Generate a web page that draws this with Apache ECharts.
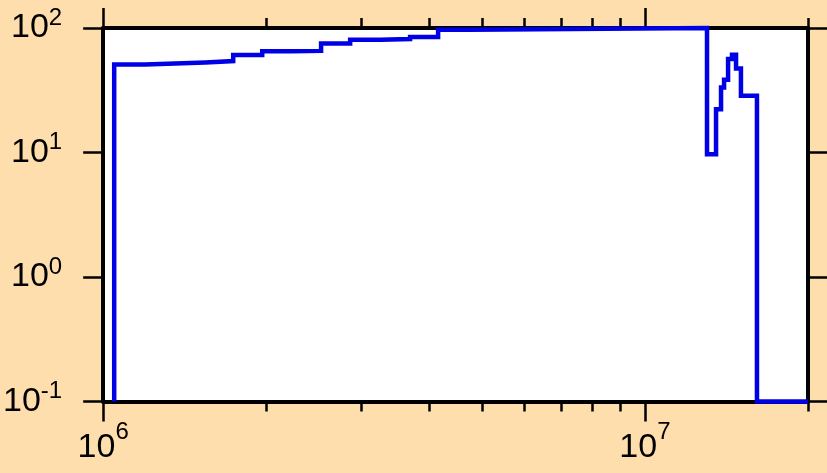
<!DOCTYPE html>
<html>
<head>
<meta charset="utf-8">
<script src="https://cdn.jsdelivr.net/npm/echarts@6/dist/echarts.min.js"></script>
<style>
html,body{margin:0;padding:0;background:#FFDEAD;}
#chart{width:827px;height:473px;}
</style>
</head>
<body>
<div id="chart"></div>
<script>
// Histogram bin edges (x) and bin values (y)
const binEdges = [1.048e6, 1.195e6, 1.358e6, 1.543e6, 1.738e6, 1.966e6, 2.223e6, 2.525e6, 2.857e6, 3.245e6, 3.686e6, 4.152e6, 4.755e6, 1.302e7, 1.353e7, 1.382e7, 1.400e7, 1.424e7, 1.448e7, 1.473e7, 1.504e7, 1.610e7, 2.0e7];
const binValues = [51.0, 51.9, 52.9, 54.3, 60.7, 65.0, 65.5, 75.2, 80.5, 81.6, 84.7, 96.9, 100, 9.7, 22.3, 33.3, 38.4, 56.3, 61.0, 47.3, 28.6, 0.1];
const baseValue = 0.1;

// Axis ticks
const xMajorTicks = [1e6, 1e7];
const xMinorTicks = [2e6, 3e6, 4e6, 5e6, 6e6, 7e6, 8e6, 9e6, 2e7];
const yTicks = [0.1, 1, 10, 100];
const xMin = 1e6, xMax = 2e7, yMin = 0.1, yMax = 100;

const pts = [[binEdges[0], baseValue]];
for (let i = 0; i < binValues.length; i++) {
  pts.push([binEdges[i], binValues[i]]);
  pts.push([binEdges[i + 1], binValues[i]]);
}

const FONT = "'Liberation Sans', Arial, sans-serif";
function makeRich(lh) {
  return {
    b: { fontSize: 34, fontFamily: FONT, color: '#000', lineHeight: lh, verticalAlign: 'middle' },
    s: { fontSize: 24, fontFamily: FONT, color: '#000', lineHeight: 24, verticalAlign: 'top' }
  };
}
const richX = makeRich(54);
const richY = makeRich(44);
const fmtExp = e => '{b|10}{s|' + e + '}';
const black = { color: '#000', width: 4 };
const tickStyle = { color: '#000', width: 2.5 };
const L = Math.log10;

function tickAxis(pos, ticks, len, withLabels, showLine) {
  return {
    type: 'value', min: L(xMin), max: L(xMax), position: pos,
    axisLine: { show: !!showLine, onZero: false, lineStyle: black },
    axisTick: { show: true, length: len, lineStyle: tickStyle, customValues: ticks.map(L) },
    axisLabel: withLabels ? {
      show: true, customValues: ticks.map(L), margin: 19,
      formatter: v => fmtExp(Math.round(v)), rich: richX
    } : { show: false },
    splitLine: { show: false }
  };
}

const chart = echarts.init(document.getElementById('chart'), null, { renderer: 'canvas' });
chart.setOption({
  animation: false,
  backgroundColor: '#FFDEAD',
  grid: { left: 102.5, right: 19, top: 28, bottom: 71.5, show: true, backgroundColor: '#fff', borderWidth: 0 },
  xAxis: [
    { type: 'log', logBase: 10, min: xMin, max: xMax, position: 'bottom',
      axisLine: { show: true, onZero: false, lineStyle: black },
      axisTick: { show: false }, axisLabel: { show: false }, splitLine: { show: false } },
    tickAxis('bottom', xMajorTicks, 20, true, false),
    tickAxis('bottom', xMinorTicks, 10, false, false),
    tickAxis('top', xMajorTicks, 20, false, true),
    tickAxis('top', xMinorTicks, 10, false, false)
  ],
  yAxis: [
    { type: 'log', logBase: 10, min: yMin, max: yMax, position: 'left',
      axisLine: { show: true, onZero: false, lineStyle: black },
      axisTick: { show: true, length: 20, lineStyle: tickStyle },
      axisLabel: { show: true, margin: 41, formatter: v => fmtExp(Math.round(Math.log10(v))), rich: richY },
      splitLine: { show: false } },
    { type: 'log', logBase: 10, min: yMin, max: yMax, position: 'right',
      axisLine: { show: true, onZero: false, lineStyle: black },
      axisTick: { show: true, length: 20, lineStyle: tickStyle },
      axisLabel: { show: false }, splitLine: { show: false } }
  ],
  series: [{
    type: 'line', xAxisIndex: 0, yAxisIndex: 0, data: pts,
    symbol: 'none', clip: false,
    lineStyle: { color: '#0000e6', width: 4.5, join: 'miter' }
  }]
});
</script>
</body>
</html>
